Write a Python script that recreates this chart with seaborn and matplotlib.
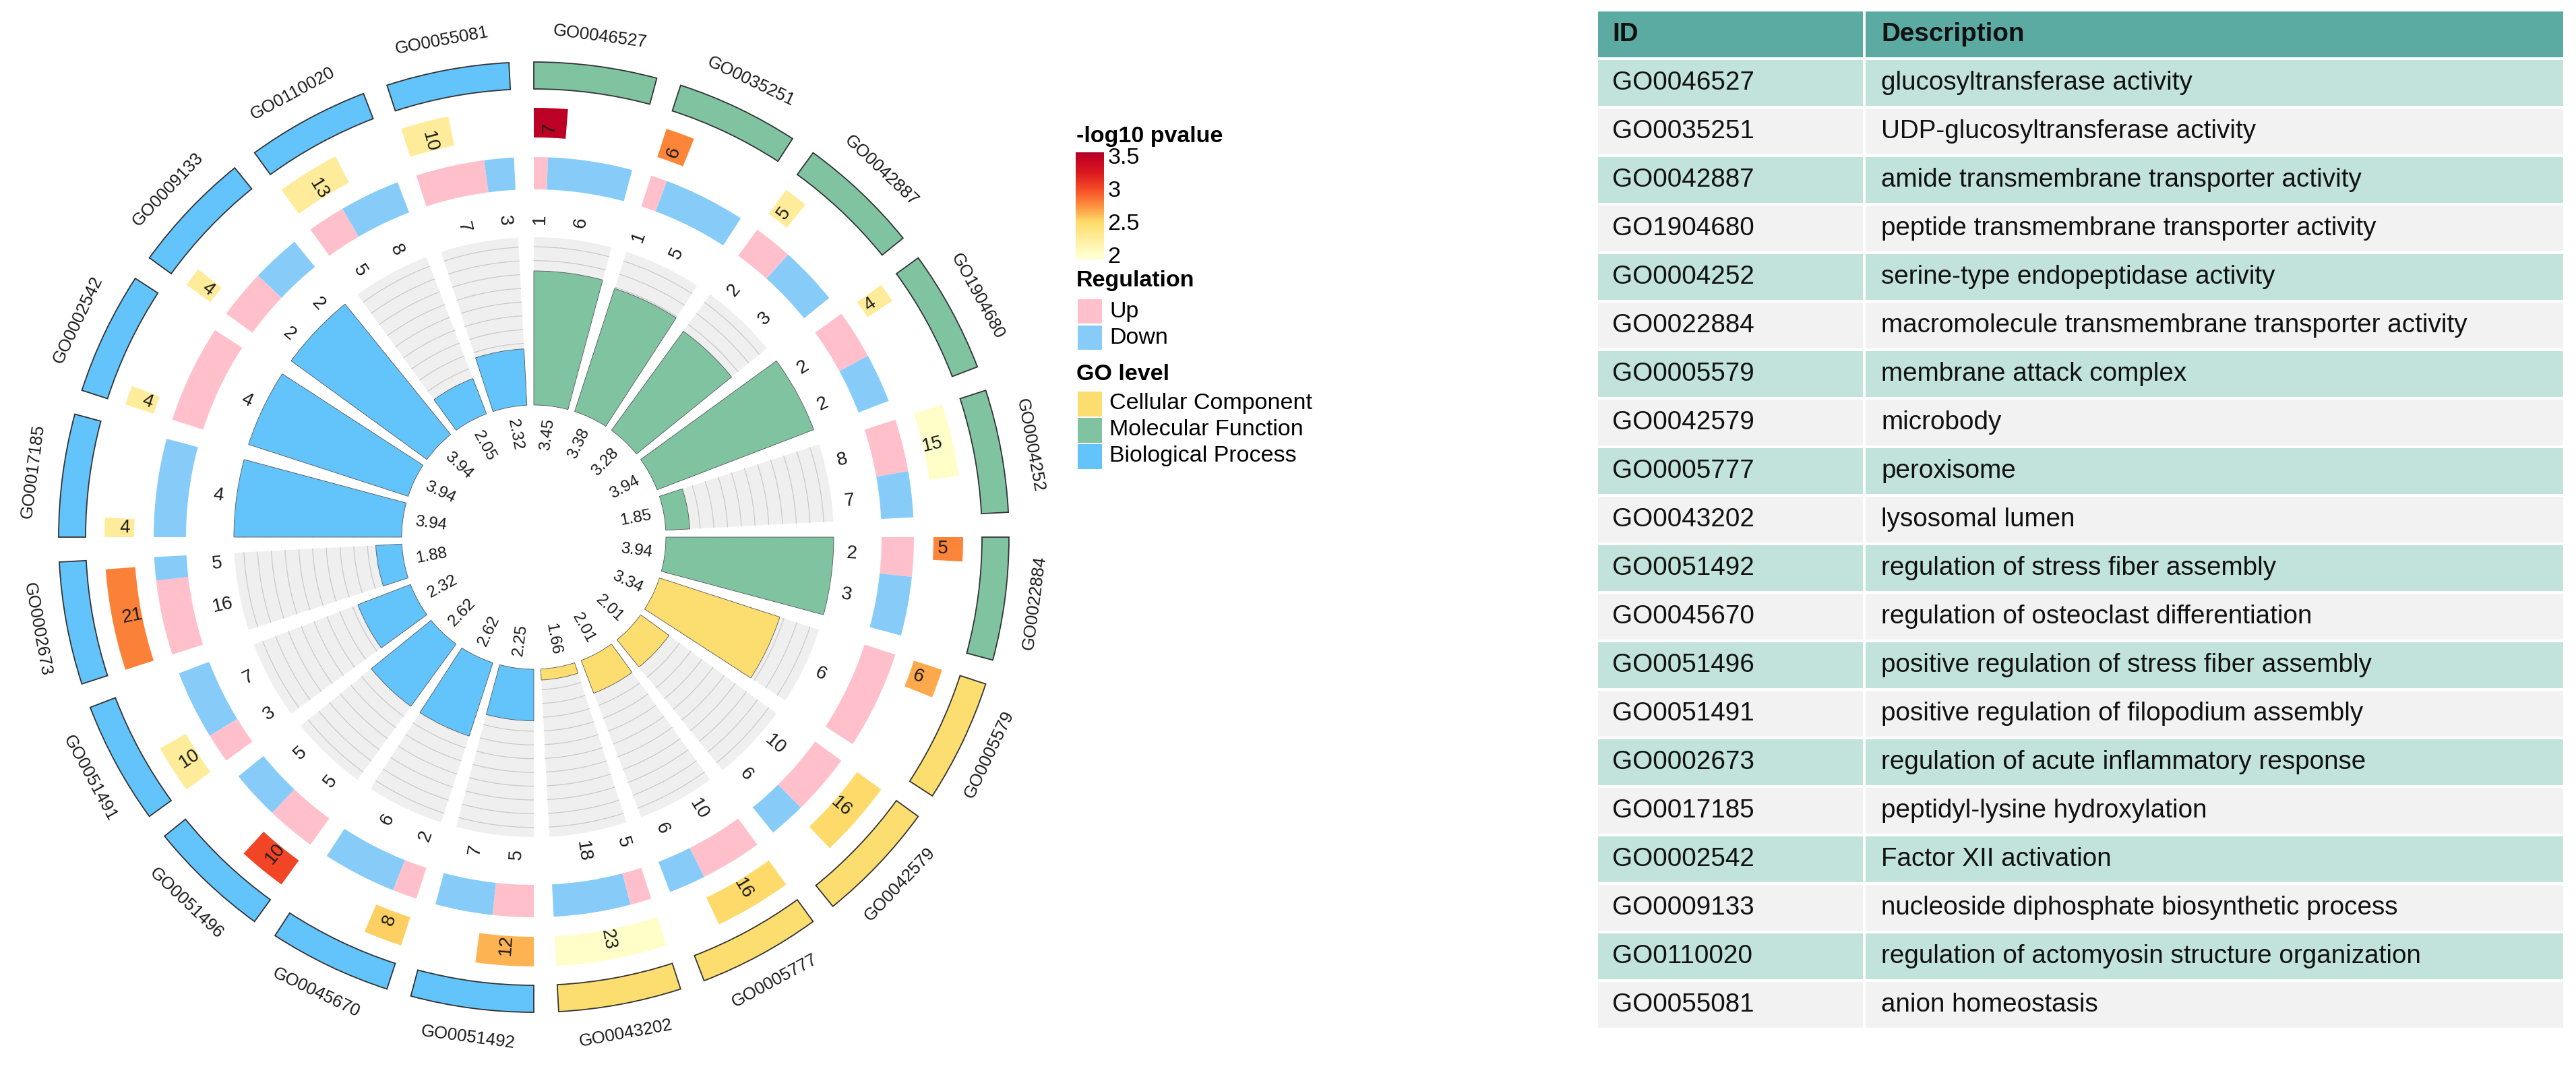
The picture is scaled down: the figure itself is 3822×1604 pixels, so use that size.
import numpy as np
import matplotlib
matplotlib.use('Agg')
import matplotlib.pyplot as plt
import seaborn as sns
from matplotlib.colors import LinearSegmentedColormap, Normalize
from matplotlib.cm import ScalarMappable
from matplotlib.ticker import FuncFormatter

# ---- data (clockwise from 12 o'clock) ----
go_ids = ['GO0046527', 'GO0035251', 'GO0042887', 'GO1904680', 'GO0004252',
          'GO0022884', 'GO0005579', 'GO0042579', 'GO0005777', 'GO0043202',
          'GO0051492', 'GO0045670', 'GO0051496', 'GO0051491', 'GO0002673',
          'GO0017185', 'GO0002542', 'GO0009133', 'GO0110020', 'GO0055081']
descriptions = ['glucosyltransferase activity',
                'UDP-glucosyltransferase activity',
                'amide transmembrane transporter activity',
                'peptide transmembrane transporter activity',
                'serine-type endopeptidase activity',
                'macromolecule transmembrane transporter activity',
                'membrane attack complex',
                'microbody',
                'peroxisome',
                'lysosomal lumen',
                'regulation of stress fiber assembly',
                'regulation of osteoclast differentiation',
                'positive regulation of stress fiber assembly',
                'positive regulation of filopodium assembly',
                'regulation of acute inflammatory response',
                'peptidyl-lysine hydroxylation',
                'Factor XII activation',
                'nucleoside diphosphate biosynthetic process',
                'regulation of actomyosin structure organization',
                'anion homeostasis']
go_level = ['MF'] * 6 + ['CC'] * 4 + ['BP'] * 10
gene_counts = [7, 6, 5, 4, 15, 5, 6, 16, 16, 23, 12, 8, 10, 10, 21, 4, 4, 4, 13, 10]
up_counts = [1, 1, 2, 2, 8, 2, 6, 10, 10, 5, 5, 2, 5, 3, 16, 0, 4, 2, 5, 7]
down_counts = [6, 5, 3, 2, 7, 3, 0, 6, 6, 18, 7, 6, 5, 7, 5, 4, 0, 2, 8, 3]
neg_log10_p = [3.50, 2.78, 2.25, 2.25, 2.02, 2.78, 2.66, 2.50, 2.50, 2.02,
               2.63, 2.54, 3.02, 2.25, 2.80, 2.25, 2.25, 2.25, 2.25, 2.25]
inner_values = [3.45, 3.38, 3.28, 3.94, 1.85, 3.94, 3.34, 2.01, 2.01, 1.66,
                2.25, 2.62, 2.62, 2.32, 1.88, 3.94, 3.94, 3.94, 2.05, 2.32]
level_names = {'CC': 'Cellular Component', 'MF': 'Molecular Function', 'BP': 'Biological Process'}

# ---- style ----
level_colors = {'CC': '#FBDE6F', 'MF': '#7FC3A1', 'BP': '#63C3FB'}
UP_COL, DOWN_COL = '#FFC0CB', '#87CCF8'
cmap_stops = [(1.93, '#FFFFD8'), (2.00, '#FFFFCC'), (2.25, '#FFEC9A'), (2.50, '#FEDB6A'),
              (2.75, '#FD8D3C'), (3.00, '#F54A26'), (3.25, '#D9181E'), (3.50, '#BD0026'),
              (3.55, '#B00026')]
vmin, vmax = cmap_stops[0][0], cmap_stops[-1][0]
cmap = LinearSegmentedColormap.from_list(
    'pv', [((v - vmin) / (vmax - vmin), c) for v, c in cmap_stops])
norm = Normalize(vmin, vmax)

sns.set_theme(style='white', rc={'text.color': 'black'})
plt.rcParams['font.family'] = ['Liberation Sans', 'DejaVu Sans']

W, H = 3822, 1604
fig = plt.figure(figsize=(W / 100, H / 100), dpi=100)

# ---- circular plot ----
cx, cy, R = 792, 797, 800
ax = fig.add_axes([(cx - R) / W, (H - cy - R) / H, 2 * R / W, 2 * R / H], projection='polar')
ax.set_theta_zero_location('N')
ax.set_theta_direction(-1)
ax.set_ylim(0, R)
ax.set_axis_off()

n = len(go_ids)
step = 360 / n
span = step - 3.0
start_deg = np.arange(n) * step
start = np.deg2rad(start_deg)
span_r = np.deg2rad(span)
counts = np.array(gene_counts, float)
up = np.array(up_counts, float)
down = np.array(down_counts, float)


def radial_rot(t):
    t = t % 360
    return 90 - t if t <= 180 else 270 - t


def tangent_rot(t):
    t = t % 360
    return -t if (t < 90 or t > 270) else 180 - t


def put(theta_deg, r, s, rot, size):
    ax.text(np.deg2rad(theta_deg), r, s, rotation=rot, rotation_mode='anchor',
            ha='center', va='center', fontsize=size, color='#1a1a1a', clip_on=False)


# outer ring: GO level
ax.bar(start, 40, width=span_r, bottom=665, align='edge',
       color=[level_colors[l] for l in go_level], edgecolor='#333333', linewidth=1.3)
for i in range(n):
    c = start_deg[i] + span / 2
    put(c, 749, go_ids[i], tangent_rot(c), 18.5)

# gene number ring coloured by -log10 p
cnt_w = span_r * counts / counts.max()
ax.bar(start, 44, width=cnt_w, bottom=593, align='edge',
       color=cmap(norm(np.array(neg_log10_p))), linewidth=0)
for i in range(n):
    c = start_deg[i] + span * counts[i] / counts.max() / 2
    put(c, 607, str(gene_counts[i]), radial_rot(c), 20)

# up / down ring
up_w = span_r * up / (up + down)
ax.bar(start, 48, width=up_w, bottom=516, align='edge', color=UP_COL, linewidth=0)
ax.bar(start + up_w, 48, width=span_r - up_w, bottom=516, align='edge', color=DOWN_COL, linewidth=0)
for i in range(n):
    frac = up[i] / (up[i] + down[i])
    if up[i] > 0:
        c = start_deg[i] + span * frac / 2
        put(c, 472, str(up_counts[i]), radial_rot(c), 20)
    if down[i] > 0:
        c = start_deg[i] + span * (frac + (1 - frac) / 2)
        put(c, 472, str(down_counts[i]), radial_rot(c), 20)

# inner bar track
r0, r1 = 196, 445
ymin, ymax = 1.5, 3.94
ax.bar(start, r1 - r0, width=span_r, bottom=r0, align='edge', color='#EFEFEF', linewidth=0, zorder=1)
for lvl in np.arange(1.6, 3.81, 0.2):
    rr = r0 + (lvl - ymin) / (ymax - ymin) * (r1 - r0)
    for s in start:
        th = np.linspace(s, s + span_r, 40)
        ax.plot(th, np.full_like(th, rr), color='#C9C9C9', lw=0.9, zorder=2)
bar_h = (np.array(inner_values) - ymin) / (ymax - ymin) * (r1 - r0)
ax.bar(start, bar_h, width=span_r, bottom=r0, align='edge',
       color=[level_colors[l] for l in go_level], edgecolor='#555555', linewidth=0.6, zorder=3)
for i in range(n):
    c = start_deg[i] + span / 2
    put(c, 154, f'{inner_values[i]:.2f}', radial_rot(c), 17.5)

# ---- legends ----
ov = fig.add_axes([0, 0, 1, 1])
ov.set_xlim(0, W)
ov.set_ylim(H, 0)
ov.set_axis_off()

LX, TX = 1597, 1646
ov.text(LX, 203, '-log10 pvalue', fontsize=24.5, fontweight='bold', va='center', ha='left')
cax = fig.add_axes([1596 / W, 1 - 385 / H, 42 / W, 159 / H])
cb = fig.colorbar(ScalarMappable(norm=norm, cmap=cmap), cax=cax, ticks=[2, 2.5, 3, 3.5])
cb.outline.set_visible(False)
cb.minorticks_off()
cax.yaxis.set_major_formatter(FuncFormatter(lambda v, p: f'{v:g}'))
cax.tick_params(axis='y', left=True, right=True, direction='in', color='white',
                length=10, width=1.5, labelsize=24.5, labelcolor='black', pad=4)

ov.text(LX, 417, 'Regulation', fontsize=24.5, fontweight='bold', va='center', ha='left')
reg_labels = ['Up', 'Down']
reg_cols = [UP_COL, DOWN_COL]
reg_y = [444, 483]
ov.bar([1599] * 2, [36] * 2, width=36, bottom=reg_y, align='edge', color=reg_cols, linewidth=0)
for y, lab in zip(reg_y, reg_labels):
    ov.text(TX, y + 18, lab, fontsize=24.5, va='center', ha='left')

ov.text(LX, 555, 'GO level', fontsize=24.5, fontweight='bold', va='center', ha='left')
lvl_keys = ['CC', 'MF', 'BP']
lvl_y = [581, 620, 659]
ov.bar([1599] * 3, [37] * 3, width=36, bottom=lvl_y, align='edge',
       color=[level_colors[k] for k in lvl_keys], linewidth=0)
for y, k in zip(lvl_y, lvl_keys):
    ov.text(TX, y + 18, level_names[k], fontsize=24.5, va='center', ha='left')

# ---- table ----
tx0, tdiv, tx1, ty0, pitch = 2371, 2766, 3803, 17, 72
rows = [('ID', 'Description')] + list(zip(go_ids, descriptions))
tb = fig.add_axes([tx0 / W, 1 - (ty0 + pitch * len(rows)) / H, (tx1 - tx0) / W, pitch * len(rows) / H])
tb.set_xlim(tx0, tx1)
tb.set_ylim(ty0 + pitch * len(rows), ty0)
tb.set_axis_off()
row_y = ty0 + pitch * np.arange(len(rows)) + 34
row_cols = ['#5BABA3'] + ['#C1E3DC' if k % 2 == 0 else '#F2F2F2' for k in range(len(rows) - 1)]
tb.barh(row_y, tdiv - 2 - tx0, left=tx0, height=68, color=row_cols, linewidth=0)
tb.barh(row_y, tx1 - tdiv - 2, left=tdiv + 2, height=68, color=row_cols, linewidth=0)
for k, (gid, desc) in enumerate(rows):
    w = 'bold' if k == 0 else 'normal'
    tb.text(tx0 + 21, row_y[k], gid, fontsize=27.8, fontweight=w, va='center', ha='left', color='#111111')
    tb.text(tdiv + 25, row_y[k], desc, fontsize=27.8, fontweight=w, va='center', ha='left', color='#111111')

fig.savefig('out.png', dpi=100)
